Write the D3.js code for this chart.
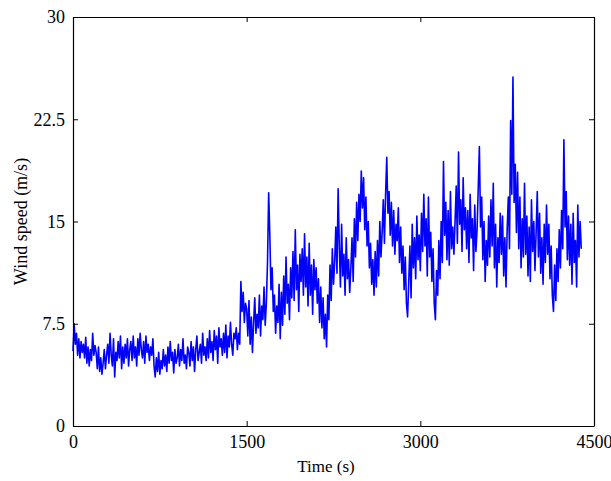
<!DOCTYPE html>
<html>
<head>
<meta charset="utf-8">
<script src="https://cdn.jsdelivr.net/npm/d3@7"></script>
<style>
  html, body { margin: 0; padding: 0; background: #fff; }
  svg { display: block; }
  text { font-family: "Liberation Serif", "Times New Roman", serif; fill: #000; }
</style>
</head>
<body>
<script>
// ---- data ----
const xTicks = [0, 1500, 3000, 4500];
const yTicks = [0, 7.5, 15, 22.5, 30];
const xTickLabels = ["0", "1500", "3000", "4500"];
const yTickLabels = ["0", "7.5", "15", "22.5", "30"];
const sampleStep = 10; // seconds between samples
const windSpeed = [
  5.5, 7.5, 6.0, 6.8, 5.2, 6.4, 5.0, 6.2, 5.4, 6.0,
  5.0, 6.5, 4.6, 5.8, 4.4, 5.6, 4.8, 6.8, 5.2, 5.9,
  5.4, 4.2, 5.8, 4.0, 5.0, 3.8, 4.6, 5.6, 4.2, 5.2,
  6.0, 4.6, 6.8, 5.2, 4.4, 6.4, 3.6, 5.4, 4.8, 6.2,
  5.0, 6.6, 4.2, 5.8, 4.6, 6.0, 5.0, 6.4, 4.4, 5.6,
  6.2, 4.8, 6.6, 5.0, 5.8, 4.4, 6.4, 5.2, 6.8, 5.6,
  5.0, 6.2, 4.6, 6.6, 5.4, 6.0, 4.8, 5.8, 5.2, 6.4,
  4.4, 3.6, 5.0, 4.0, 5.4, 3.8, 4.8, 4.2, 5.6, 4.4,
  5.2, 4.0, 5.8, 4.6, 6.2, 4.8, 5.4, 3.9, 5.6, 4.6,
  5.0, 6.0, 4.4, 5.6, 4.8, 6.4, 4.6, 5.2, 4.2, 5.8,
  5.4, 4.4, 6.2, 4.8, 5.8, 4.0, 5.6, 6.6, 4.8, 5.4,
  6.0, 4.6, 6.8, 5.2, 5.8, 4.8, 6.4, 5.0, 7.0, 5.4,
  6.2, 4.8, 7.0, 5.6, 6.6, 4.6, 7.2, 5.8, 6.4, 5.2,
  6.8, 5.4, 7.4, 5.0, 6.6, 5.8, 7.6, 6.0, 5.2, 6.8,
  6.4, 7.2, 5.6, 6.8, 6.0, 10.6, 8.4, 9.8, 7.6, 9.0,
  8.6, 6.6, 9.2, 6.0, 8.0, 5.4, 7.6, 9.4, 6.8, 8.2,
  7.2, 9.6, 6.6, 8.8, 7.8, 10.2, 7.4, 9.0, 12.0, 17.1,
  14.0, 10.0, 11.6, 8.4, 9.6, 6.8, 8.8, 7.6, 10.4, 6.4,
  9.8, 7.4, 11.0, 8.2, 12.4, 9.0, 10.4, 7.8, 11.6, 9.4,
  12.8, 9.2, 14.4, 10.0, 11.8, 8.4, 12.6, 10.6, 13.0, 9.6,
  14.1, 10.2, 12.4, 8.8, 13.4, 9.6, 11.8, 8.2, 12.2, 10.0,
  11.6, 9.0, 10.8, 7.6, 10.2, 7.2, 9.4, 6.4, 8.2, 5.8,
  9.6, 7.8, 11.8, 9.2, 13.0, 10.4, 12.0, 14.6, 11.2, 17.4,
  13.2, 10.2, 14.8, 11.0, 12.6, 9.6, 13.8, 10.8, 12.2, 9.8,
  11.6, 13.8, 10.6, 15.2, 12.4, 16.4, 13.6, 17.0, 15.0, 18.7,
  16.0, 18.2, 14.4, 16.8, 13.2, 15.0, 11.6, 13.4, 10.4, 12.2,
  9.6, 12.8, 10.2, 13.6, 11.0, 15.0, 12.4, 14.2, 16.6, 13.4,
  17.0, 19.7, 15.6, 17.2, 14.0, 16.4, 13.2, 15.8, 12.6, 14.8,
  13.6, 16.0, 12.0, 14.6, 11.2, 13.2, 10.0, 12.4, 9.0, 8.0,
  10.6, 13.2, 9.4, 14.8, 11.6, 13.8, 10.8, 15.4, 12.2, 14.0,
  11.4, 15.6, 12.8, 17.0, 13.2, 15.2, 11.0, 16.8, 12.4, 14.2,
  10.6, 13.0, 9.0, 7.8, 11.4, 9.6, 13.6, 10.8, 15.0, 12.0,
  19.4, 14.0, 16.4, 12.2, 15.8, 11.8, 17.2, 13.0, 14.6, 12.6,
  15.0, 17.6, 13.4, 20.1, 14.8, 16.6, 12.8, 18.2, 14.4, 16.0,
  13.0, 15.8, 12.0, 17.0, 13.8, 15.2, 11.4, 16.2, 12.8, 14.4,
  17.4, 20.5, 14.6, 16.8, 12.2, 15.0, 10.6, 13.6, 11.8, 15.4,
  12.4, 16.6, 13.2, 17.8, 11.6, 14.8, 10.2, 13.8, 12.0, 15.6,
  12.6, 15.4, 11.0, 13.8, 10.2, 14.4, 16.8, 13.0, 22.4, 17.0,
  25.6, 16.4, 19.2, 14.2, 18.6, 13.0, 16.8, 11.6, 15.2, 12.4,
  17.8, 12.6, 15.4, 11.0, 14.6, 10.6, 16.6, 12.8, 15.0, 11.4,
  14.2, 17.2, 12.4, 15.6, 11.2, 13.8, 10.4, 14.8, 12.0, 16.2,
  12.6, 14.8, 10.8, 13.2, 9.6, 8.4, 11.8, 9.2, 13.0, 10.6,
  14.4, 11.6, 15.8, 13.0, 21.0, 14.6, 17.2, 12.2, 15.4, 11.8,
  14.8, 10.4, 15.6, 12.0, 13.6, 10.2, 16.2, 12.4, 15.0, 13.0
];
const xLabel = "Time (s)";
const yLabel = "Wind speed (m/s)";

// ---- layout ----
const W = 611, H = 481;
const margin = { left: 73, right: 17, top: 17, bottom: 55 };
const iw = W - margin.left - margin.right;
const ih = H - margin.top - margin.bottom;

const svg = d3.select("body").append("svg")
  .attr("width", W).attr("height", H);

const x = d3.scaleLinear().domain([0, 4500]).range([margin.left, margin.left + iw]);
const y = d3.scaleLinear().domain([0, 30]).range([margin.top + ih, margin.top]);

const series = windSpeed.map((v, i) => ({ t: i * sampleStep, v }));

// data line
svg.append("path")
  .datum(series)
  .attr("fill", "none")
  .attr("stroke", "#0000ff")
  .attr("stroke-width", 1.6)
  .attr("stroke-linejoin", "round")
  .attr("d", d3.line().x(d => x(d.t)).y(d => y(d.v)));

const fontSize = 18;
const tickLen = 5;

// axes (inward ticks, mirrored)
const xAxisB = d3.axisBottom(x).tickValues(xTicks).tickSizeInner(-tickLen).tickSizeOuter(0)
  .tickFormat((d, i) => xTickLabels[i]).tickPadding(9);
const xAxisT = d3.axisTop(x).tickValues(xTicks).tickSizeInner(-tickLen).tickSizeOuter(0).tickFormat("");
const yAxisL = d3.axisLeft(y).tickValues(yTicks).tickSizeInner(-tickLen).tickSizeOuter(0)
  .tickFormat((d, i) => yTickLabels[i]).tickPadding(8);
const yAxisR = d3.axisRight(y).tickValues(yTicks).tickSizeInner(-tickLen).tickSizeOuter(0).tickFormat("");

function style(g) {
  g.selectAll("path.domain").attr("stroke", "#000").attr("stroke-width", 1.2);
  g.selectAll(".tick line").attr("stroke", "#000").attr("stroke-width", 1);
  g.selectAll("text").attr("font-family", "Liberation Serif, Times New Roman, serif")
    .attr("font-size", fontSize).attr("fill", "#000");
}

svg.append("g").attr("transform", `translate(0,${margin.top + ih})`).call(xAxisB).call(style);
svg.append("g").attr("transform", `translate(0,${margin.top})`).call(xAxisT).call(style);
svg.append("g").attr("transform", `translate(${margin.left},0)`).call(yAxisL).call(style);
svg.append("g").attr("transform", `translate(${margin.left + iw},0)`).call(yAxisR).call(style);

// axis labels
svg.append("text")
  .attr("x", 326).attr("y", 472)
  .attr("text-anchor", "middle").attr("font-size", 17)
  .text(xLabel);
svg.append("text")
  .attr("transform", `translate(27,${margin.top + ih / 2}) rotate(-90)`)
  .attr("text-anchor", "middle").attr("font-size", 18)
  .text(yLabel);
</script>
</body>
</html>
